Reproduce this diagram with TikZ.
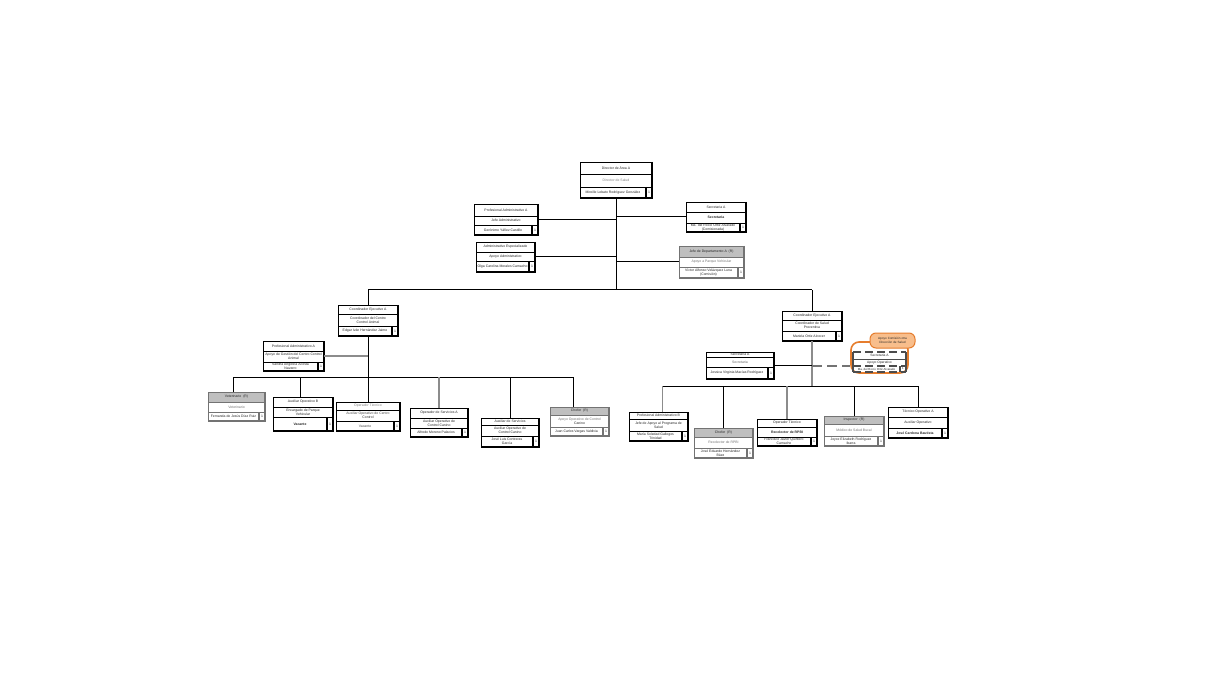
\documentclass[tikz,border=0pt]{standalone}
\usepackage{fontspec}
\setmainfont{Liberation Sans}
\usetikzlibrary{fit,calc}
\definecolor{orangeb}{RGB}{230,125,45}
\definecolor{orangef}{RGB}{248,190,140}
\tikzset{
  txt/.style={font=\fontsize{1.72}{2.0}\selectfont, inner sep=0pt, align=center, text=black!85},
  conn/.style={draw=black, line width=0.5pt},
  gconn/.style={draw=black!45, line width=0.9pt},
}
% #1 name #2 x1 #3 y1 #4 x2 #5 y2 #6 sep1 #7 sep2 #8 header fill #9 border colour
\newcommand\obox[9]{%
  \fill[white] (#2,#3) rectangle (#4,#5);
  \fill[#8] (#2,#3) rectangle (#4,#6);
  \node[fit={(#2,#3)(#4,#5)}, inner sep=0pt, draw=#9, line width=0.4pt] (#1) {};
  \draw[#9, line width=0.4pt] (#2,#6) -- (#4,#6) (#2,#7) -- (#4,#7);
  \draw[#9, line width=0.9pt] (#4,#3) -- (#4,#5) -- (#2,#5);
  \draw[#9, line width=0.9pt] ({#4-6},#7) -- ({#4-6},#5);
  \coordinate (#1-a) at ({(#2+#4)/2},{(#3+#6)/2});
  \coordinate (#1-b) at ({(#2+#4)/2},{(#6+#7)/2});
  \coordinate (#1-c) at ({(#2+#4-6)/2},{(#7+#5)/2});
  \coordinate (#1-d) at ({#4-3},{(#7+#5)/2});
}
\newcommand\otext[4]{%
  \node[txt] (#1-t1) at (#1-a) {#2};
  \node[txt] (#1-t2) at (#1-b) {#3};
  \node[txt] (#1-t3) at (#1-c) {#4};
  \node[txt] (#1-n) at (#1-d) {1};
}
\begin{document}
\begin{tikzpicture}[x=0.5pt,y=-0.5pt]
\path[use as bounding box, fill=white] (0,0) rectangle (1228,690);

\coordinate (j1) at (616,290);
\coordinate (lb) at (0,377);
\coordinate (rb) at (0,386);
\coordinate (dj) at (0,366);

% ---- boxes ----
\obox{dir}{580}{162}{652}{198}{174}{187}{white}{black}
\obox{paa}{474}{204}{538}{235}{216}{225}{white}{black}
\obox{aes}{476}{242}{535}{272}{252}{261}{white}{black}
\obox{sec}{686}{202}{746}{232}{212}{223}{white}{black}
\obox{jef}{679}{246}{744}{278}{257}{267}{black!25}{black!55}
\obox{lc}{338}{305}{398}{336}{314}{326}{white}{black}
\obox{lpa}{263}{341}{324}{371}{351}{362}{white}{black}
\obox{vet}{208}{392}{265}{421}{402}{412}{black!25}{black!55}
\obox{aob}{273}{397}{333}{431}{407}{417}{white}{black}
\obox{lot}{336}{402}{400}{431}{410}{421}{white}{black}
\obox{osa}{410}{408}{468}{437}{418}{428}{white}{black}
\obox{asv}{481}{418}{539}{447}{425}{436}{white}{black}
\obox{lch}{550}{407}{609}{436}{415}{427}{black!25}{black!55}
\obox{rc}{782}{311}{842}{341}{320}{331}{white}{black}
\obox{rsec}{706}{352}{774}{379}{357}{367}{white}{black}
\obox{pab}{629}{412}{688}{441}{419}{431}{white}{black}
\obox{rch}{694}{428}{753}{458}{437}{448}{black!25}{black!55}
\obox{rot}{757}{419}{817}{446}{427}{437}{white}{black}
\obox{ins}{824}{416}{884}{446}{424}{436}{black!25}{black!55}
\obox{tco}{888}{407}{948}{438}{417}{428}{white}{black}

% ---- connectors ----
\draw[conn] (dir.south) -- (dir.south |- j1);
\draw[conn] (paa.east) -- (paa.east -| dir.south);
\draw[conn] (aes.east) -- (aes.east -| dir.south);
\draw[conn] (sec.west) -- (sec.west -| dir.south);
\draw[conn] (jef.west) -- (jef.west -| dir.south);
\draw[conn] (lc.north |- j1) -- (rc.north |- j1);
\draw[conn] (lc.north |- j1) -- (lc.north);
\draw[conn] (rc.north |- j1) -- (rc.north);

\draw[conn] (lc.south) -- (lot.north);
\draw[gconn] (lpa.east) -- (lpa.east -| lc.south);
\draw[conn] ($(vet.north |- lb)+(-3,0)$) -- ($(lch.north |- lb)+(-6,0)$);
\draw[conn] ($(vet.north |- lb)+(-3,0)$) -- ($(vet.north)+(-3,0)$);
\draw[conn] ($(aob.north |- lb)+(-3,0)$) -- ($(aob.north)+(-3,0)$);
\draw[gconn] (osa.north |- lb) -- (osa.north);
\draw[conn] (asv.north |- lb) -- (asv.north);
\draw[conn] ($(lch.north |- lb)+(-6,0)$) -- ($(lch.north)+(-6,0)$);

\draw[gconn] (rc.south) -- (rc.south |- rb);
\draw[conn] (rsec.east) -- (rsec.east -| rc.south);
\draw[conn] ($(pab.north |- rb)+(4,0)$) -- (tco.north |- rb);
\draw[gconn] ($(pab.north |- rb)+(4,0)$) -- ($(pab.north)+(4,0)$);
\draw[conn] (rch.north |- rb) -- (rch.north);
\draw[gconn] (rot.north |- rb) -- (rot.north);
\draw[conn] (ins.north |- rb) -- (ins.north);
\draw[conn] (tco.north |- rb) -- (tco.north);

% ---- orange group ----
\node[fit={(851,342)(908,373)}, inner sep=0pt, draw=orangeb, line width=0.8pt, rounded corners=4pt, fill=white] (og) {};
\draw[black!55, line width=0.9pt, dash pattern=on 5pt off 2.5pt] (rc.south |- dj) -- (og.west |- dj);
\node[fit={(870,333)(915,348)}, inner sep=0pt, draw=orangeb, line width=0.5pt, rounded corners=3pt, fill=orangef] (call) {};
\node[txt, font=\fontsize{1.55}{1.8}\selectfont] (call-t) at (call.center) {Apoyo Comisión otra\\Dirección de Salud};
\node[fit={(853,352)(906,372)}, inner sep=0pt] (dsb) {};
\draw[black!70, line width=1pt, dash pattern=on 4pt off 2pt] (853,352) -- (906,352) (853,366) -- (906,366) (853,372) -- (906,372);
\draw[black!70, line width=1pt] (853,352) -- (853,372) (906,352) -- (906,372);
\draw[black!70, line width=0.4pt] (853,359) -- (906,359);
\draw[black!70, line width=0.8pt] (900,366) -- (900,372);
\node[txt, font=\fontsize{1.65}{2}\selectfont] (dsb-t1) at (879.5,355.5) {Secretaria A};
\node[txt, font=\fontsize{1.65}{2}\selectfont] (dsb-t2) at (879.5,362.5) {Apoyo Operativo};
\node[txt, font=\fontsize{1.45}{1.8}\selectfont] (dsb-t3) at (876.5,369) {Ma. del Rocío Ortiz Alvarado};
\node[txt, font=\fontsize{1.45}{1.8}\selectfont] (dsb-n) at (903,369) {1};

% ---- texts ----
\otext{dir}{Director de Área A}{\color{black!50}Director de Salud}{Mireille Lobato Rodríguez González}
\otext{paa}{Profesional Administrativo A}{Jefe Administrativo}{Gerónimo Yáñez Castillo}
\otext{aes}{Administrativo Especializado}{Apoyo Administrativo}{Olga Carolina Morales Camacho}
\otext{sec}{Secretaria A}{\bfseries Secretaria}{Ma. del Rocío Ortiz Alvarado\\(Comisionada)}
\otext{jef}{Jefe de Departamento A\ \ (R)}{\color{black!55}Apoyo a Parque Vehicular}{Víctor Alfonso Velázquez Luna\\(Comisión)}
\otext{lc}{Coordinador Ejecutivo A}{Coordinador del Centro\\Control Animal}{Edgar Iván Hernández Jaime}
\otext{lpa}{Profesional Administrativo A}{Apoyo de Gestión del Centro Control\\Animal}{Sandra Angélica Acosta\\Navarro}
\otext{vet}{Veterinario\ \ (R)}{\color{black!55}Veterinario}{Fernanda de Jesús Díaz Ruiz}
\otext{aob}{Auxiliar Operativo B}{Encargado de Parque\\Vehicular}{\bfseries Vacante}
\otext{lot}{\color{black!50}Operador Técnico}{\color{black!70}Auxiliar Operativo de Centro\\Control}{\color{black!70}Vacante}
\otext{osa}{Operador de Servicios A}{Auxiliar Operativo de\\Control Canino}{Alfredo Moreno Palacios}
\otext{asv}{Auxiliar de Servicios}{Auxiliar Operativo de\\Control Canino}{José Luis Contreras\\García}
\otext{lch}{Chofer\ \ (R)}{\color{black!55}Apoyo Operativo de Control\\Canino}{Juan Carlos Vargas Valdivia}
\otext{rc}{Coordinador Ejecutivo A}{Coordinador de Salud\\Preventiva}{Mariela Ortiz Alcocer}
\otext{rsec}{Secretaria A}{\color{black!60}Secretaria}{Jessica Virginia Macías Rodríguez}
\otext{pab}{Profesional Administrativo B}{Jefe de Apoyo al Programa de\\Salud}{María Soledad Gallegos\\Trinidad}
\otext{rch}{Chofer\ \ (R)}{\color{black!55}Recolector de RPBI}{José Eduardo Hernández\\Báez}
\otext{rot}{Operador Técnico}{\bfseries Recolector de RPBI}{Francisco Javier Quintero\\Camacho}
\otext{ins}{Inspector\ \ (R)}{\color{black!55}Médico de Salud Bucal}{Joyce Elizabeth Rodríguez\\Ibarra}
\otext{tco}{Técnico Operativo A}{Auxiliar Operativo}{\bfseries José Cardona Bautista}
\end{tikzpicture}
\end{document}
